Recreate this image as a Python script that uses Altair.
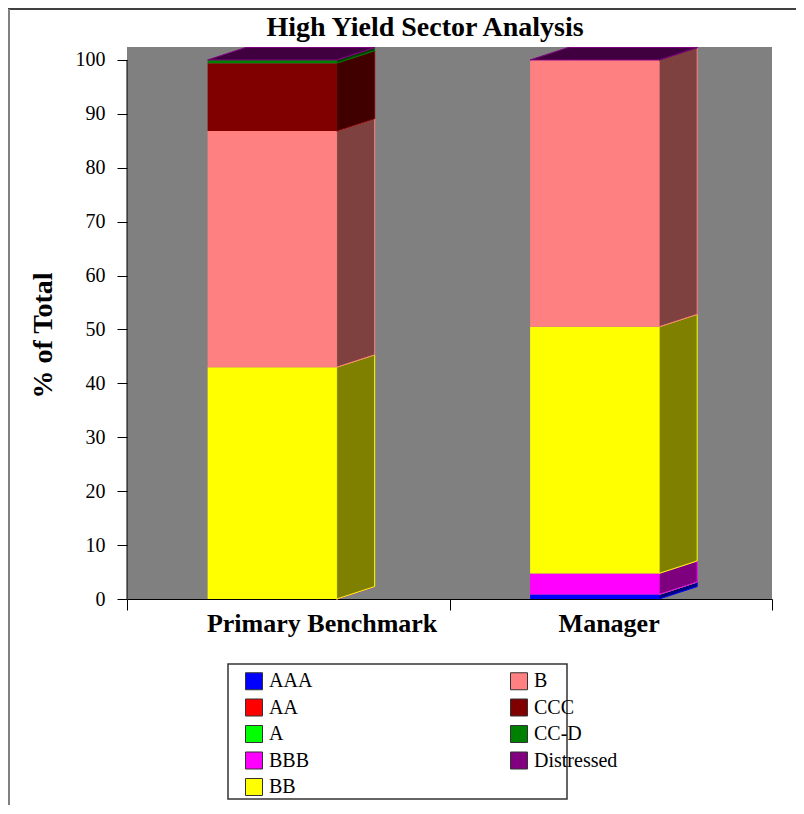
import altair as alt
import pandas as pd

# ---------------- data ----------------
categories = ["Primary Benchmark", "Manager"]
sectors = ["AAA", "AA", "A", "BBB", "BB", "B", "CCC", "CC-D", "Distressed"]
sector_colors = ["#0000FF", "#FF0000", "#00FF00", "#FF00FF", "#FFFF00",
                 "#FF8080", "#800000", "#008000", "#800080"]
benchmark_values = [0.0, 0.0, 0.0, 0.0, 43.0, 43.8, 12.6, 0.6, 0.0]
manager_values = [0.85, 0.0, 0.0, 3.9, 45.75, 49.5, 0.0, 0.0, 0.0]
y_ticks = list(range(0, 101, 10))
title_text = "High Yield Sector Analysis"
y_title = "% of Total"

# ---------------- geometry / style constants ----------------
BAR_L, BAR_R = 0.25, 0.65      # front face of each bar inside its category unit
DX, DY = 0.118, 2.3            # 3-D depth offset (x units, y units)
LABEL_X = [0.605, 1.495]       # category label centres
FONT = "Liberation Serif"


def shade(hex_color):
    r, g, b = (int(hex_color[k:k + 2], 16) for k in (1, 3, 5))
    return "#%02x%02x%02x" % (r // 2, g // 2, b // 2)


series = [benchmark_values, manager_values]
front_rows, side_rows, top_rows = [], [], []
for i, (cat, vals) in enumerate(zip(categories, series)):
    base = 0.0
    xl, xr = i + BAR_L, i + BAR_R
    for j, (s, col, v) in enumerate(zip(sectors, sector_colors, vals)):
        lo, hi = base, base + v
        base = hi
        key = "%d-%02d" % (i, j)
        front_rows.append(dict(cat=cat, sector=s, x0=xl, x1=xr, y0=lo, y1=hi))
        for x, d in ((xr, 0.0), (xr + DX, DY)):
            side_rows.append(dict(key=key, x=x, lo=lo + d, hi=hi + d,
                                  fill=shade(col), edge=col))
    col = sector_colors[-1]
    top = base
    for x, lo, hi in ((xl, top, top), (xl + DX, top, top + DY),
                      (xr, top, top + DY), (xr + DX, top + DY, top + DY)):
        top_rows.append(dict(key=cat, x=x, lo=lo, hi=hi, fill=shade(col), edge=col))

df_front = pd.DataFrame(front_rows)
df_side = pd.DataFrame(side_rows)
df_top = pd.DataFrame(top_rows)
df_labels = pd.DataFrame({"cat": categories, "lx": LABEL_X})

xs = alt.Scale(domain=[0, 2], nice=False, zero=False)
ys = alt.Scale(domain=[0, 102.4], nice=False, zero=False)

x_axis = alt.Axis(title=None, values=[0, 1, 2], labels=False, grid=False,
                  domainColor="black", domainWidth=1, tickColor="black", tickSize=11)
y_axis = alt.Axis(title=y_title, values=y_ticks, grid=False, domain=False,
                  tickColor="black", tickSize=10, labelPadding=12,
                  labelFont=FONT, labelFontSize=20, labelColor="black",
                  titleFont=FONT, titleFontSize=28, titleFontWeight="bold",
                  titleColor="black", titleX=-70, titleY=288)


def X(field):
    return alt.X(field, scale=xs, axis=x_axis)


def Y(field):
    return alt.Y(field, scale=ys, axis=y_axis)


front = alt.Chart(df_front).mark_rect(opacity=1).encode(
    x=X("x0:Q"),
    x2="x1:Q",
    y=Y("y0:Q"),
    y2="y1:Q",
    color=alt.Color("sector:N",
                    scale=alt.Scale(domain=sectors, range=sector_colors),
                    legend=alt.Legend(title=None, orient="none", legendX=117, legendY=624,
                                      direction="vertical", columns=2, columnPadding=195,
                                      rowPadding=4.5, symbolType="square", symbolSize=289,
                                      symbolStrokeColor="#333333", symbolStrokeWidth=1,
                                      symbolOpacity=1, labelFont=FONT, labelFontSize=20,
                                      labelColor="black", labelOffset=5, labelLimit=0)),
)

side = alt.Chart(df_side).mark_area(opacity=1, strokeWidth=1, orient="vertical").encode(
    x=X("x:Q"),
    y=Y("lo:Q"),
    y2="hi:Q",
    fill=alt.Fill("fill:N", scale=None),
    stroke=alt.Stroke("edge:N", scale=None),
    detail="key:N",
)

topface = alt.Chart(df_top).mark_area(opacity=1, strokeWidth=1, orient="vertical").encode(
    x=X("x:Q"),
    y=Y("lo:Q"),
    y2="hi:Q",
    fill=alt.Fill("fill:N", scale=None),
    stroke=alt.Stroke("edge:N", scale=None),
    detail="key:N",
)

y_domain = alt.Chart(pd.DataFrame({"lo": [0], "hi": [100]})).mark_rule(
    color="black", strokeWidth=1).encode(
    x=alt.value(0), y=Y("lo:Q"), y2="hi:Q")

cat_labels = alt.Chart(df_labels).mark_text(
    font=FONT, fontSize=26, fontWeight="bold", color="black", baseline="middle").encode(
    x=X("lx:Q"), y=alt.value(577), text="cat:N")

title = alt.Chart(pd.DataFrame({"t": [title_text]})).mark_text(
    font=FONT, fontSize=28, fontWeight="bold", color="black", baseline="alphabetic").encode(
    x=alt.value(298), y=alt.value(-11), text="t:N")

# frame around the chart and the legend box
frame_top = alt.Chart(pd.DataFrame({"a": [0]})).mark_rule(color="black", strokeWidth=1.5).encode(
    x=alt.value(-119), x2=alt.value(680), y=alt.value(-38))
frame_left = alt.Chart(pd.DataFrame({"a": [0]})).mark_rule(color="#808080", strokeWidth=2).encode(
    x=alt.value(-118), y=alt.value(-38), y2=alt.value(770))
legend_box = alt.Chart(pd.DataFrame({"a": [0]})).mark_rect(
    fill="white", stroke="#333333", strokeWidth=1.5).encode(
    x=alt.value(101), x2=alt.value(440), y=alt.value(617), y2=alt.value(752))

chart = alt.layer(
    front, side, topface, y_domain, cat_labels, title, frame_top, frame_left, legend_box
).properties(
    width=645, height=552, autosize="none",
    padding={"left": 119, "top": 39, "right": 24, "bottom": 206},
).configure(font=FONT).configure_view(fill="#808080", stroke=None)

chart.save("out.html", embed_options={"renderer": "svg", "actions": False})
